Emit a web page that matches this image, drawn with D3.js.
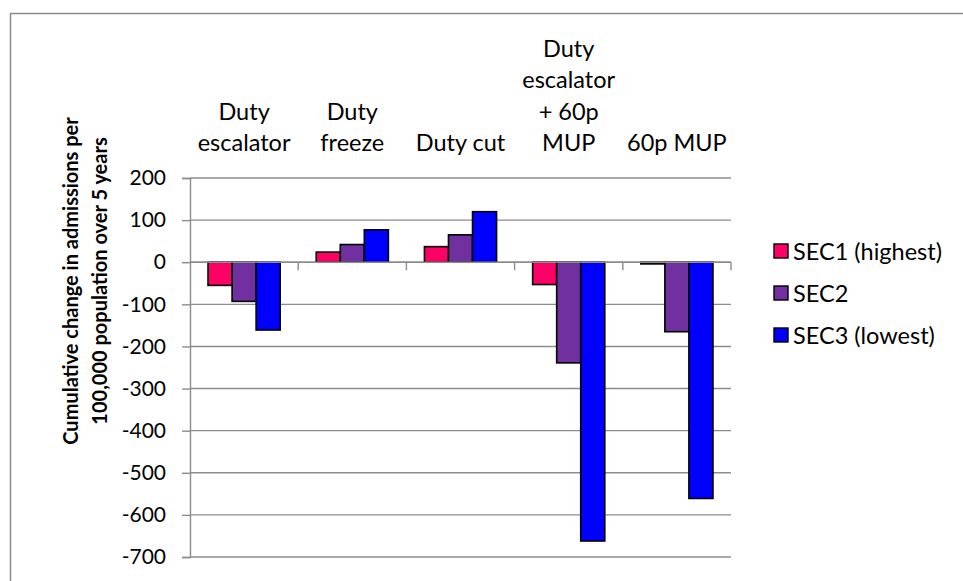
<!DOCTYPE html>
<html>
<head>
<meta charset="utf-8">
<script src="https://cdn.jsdelivr.net/npm/d3@7/dist/d3.min.js"></script>
<style>
  html, body { margin: 0; padding: 0; background: #fff; }
  svg { display: block; }
  text { font-family: Lato, "Open Sans", sans-serif; fill: #000; }
</style>
</head>
<body>
<svg id="chart" width="963" height="581"></svg>
<script>
// Policy scenarios (category labels, split into display lines)
const categories = ["Duty escalator", "Duty freeze", "Duty cut", "Duty escalator + 60p MUP", "60p MUP"];
const categoryLines = [["Duty", "escalator"], ["Duty", "freeze"], ["Duty cut"], ["Duty", "escalator", "+ 60p", "MUP"], ["60p MUP"]];

// Series: socioeconomic classes
const seriesNames = ["SEC1 (highest)", "SEC2", "SEC3 (lowest)"];
const seriesColors = ["#ff0066", "#7030a0", "#0000ff"];

// Cumulative change in admissions per 100,000 over 5 years
const sec1 = [-55, 24, 37, -53, -4];
const sec2 = [-93, 42, 65, -239, -165];
const sec3 = [-161, 77, 120, -662, -561];

// Value axis ticks
const yTicks = [200, 100, 0, -100, -200, -300, -400, -500, -600, -700];

const seriesValues = [sec1, sec2, sec3];
const rows = categories.map((c, i) => ({
  category: c,
  values: seriesNames.map((s, j) => ({ series: s, value: seriesValues[j][i], color: seriesColors[j] }))
}));

const svg = d3.select("#chart");
const plot = { left: 190, right: 731, top: 178, bottom: 557 };

// Outer chart frame
svg.append("rect")
  .attr("x", 10.5).attr("y", 13.5)
  .attr("width", 1000).attr("height", 1000)
  .attr("fill", "none").attr("stroke", "#8c8c8c").attr("stroke-width", 1.5);

const x0 = d3.scaleBand().domain(categories).range([plot.left, plot.right]).padding(0);
const x1 = d3.scaleBand().domain(seriesNames).range([0, x0.bandwidth()]).paddingInner(0).paddingOuter(0.75);
const y = d3.scaleLinear().domain([-700, 200]).range([plot.bottom, plot.top]);

// Horizontal gridlines
svg.append("g").selectAll("line").data(yTicks).join("line")
  .attr("x1", plot.left).attr("x2", plot.right)
  .attr("y1", d => y(d)).attr("y2", d => y(d))
  .attr("stroke", "#8c8c8c").attr("stroke-width", 1.4);

// Value axis
const yAxis = svg.append("g")
  .attr("transform", `translate(${plot.left},0)`)
  .call(d3.axisLeft(y).tickValues(yTicks).tickSize(8).tickPadding(16).tickFormat(d3.format("d")));
yAxis.select(".domain").attr("stroke", "#8c8c8c").attr("stroke-width", 1.4);
yAxis.selectAll(".tick line").attr("stroke", "#8c8c8c").attr("stroke-width", 1.4);
yAxis.selectAll(".tick text")
  .style("font-family", "Lato, sans-serif").style("font-size", "21px").attr("fill", "#000")
  .text(d => d < 0 ? "-" + Math.abs(d) : d);

// Bars
const groups = svg.append("g").selectAll("g").data(rows).join("g")
  .attr("transform", d => `translate(${x0(d.category)},0)`);
groups.selectAll("rect").data(d => d.values).join("rect")
  .attr("x", d => x1(d.series))
  .attr("width", x1.bandwidth())
  .attr("y", d => y(Math.max(0, d.value)))
  .attr("height", d => Math.abs(y(d.value) - y(0)))
  .attr("fill", d => d.color)
  .attr("stroke", "#000").attr("stroke-width", 1.6);

// Category axis along zero, with tick marks between categories
const z = y(0);
svg.append("line")
  .attr("x1", plot.left).attr("x2", plot.right).attr("y1", z).attr("y2", z)
  .attr("stroke", "#8c8c8c").attr("stroke-width", 1.4);
svg.append("g").selectAll("line").data(categories).join("line")
  .attr("x1", d => x0(d) + x0.bandwidth()).attr("x2", d => x0(d) + x0.bandwidth())
  .attr("y1", z).attr("y2", z + 8)
  .attr("stroke", "#8c8c8c").attr("stroke-width", 1.4);

// Category labels above the plot, bottom-aligned
const lineH = 31.5;
const labelBase = 151;
svg.append("g").selectAll("text").data(categories).join("text")
  .attr("text-anchor", "middle")
  .style("font-size", "23.5px")
  .each(function(d, i) {
    const lines = categoryLines[i];
    const cx = x0(d) + x0.bandwidth() / 2;
    d3.select(this).selectAll("tspan").data(lines).join("tspan")
      .attr("x", cx)
      .attr("y", (l, k) => labelBase - (lines.length - 1 - k) * lineH)
      .text(l => l);
  });

// Value axis title
const title = svg.append("text")
  .attr("transform", "translate(0,281) rotate(-90)")
  .attr("text-anchor", "middle")
  .style("font-size", "20px").style("font-weight", "bold");
title.append("tspan").attr("x", 0).attr("y", 78).text("Cumulative change in admissions per");
title.append("tspan").attr("x", 0).attr("y", 107).text("100,000 population over 5 years");

// Legend
const legend = svg.append("g").selectAll("g").data(seriesNames).join("g")
  .attr("transform", (d, i) => `translate(774,${251 + i * 42})`);
legend.append("rect")
  .attr("x", 0).attr("y", -7).attr("width", 14).attr("height", 14)
  .attr("fill", (d, i) => seriesColors[i]).attr("stroke", "#000").attr("stroke-width", 1.4);
legend.append("text")
  .attr("x", 19).attr("y", 8.5)
  .style("font-size", "23.5px")
  .text(d => d);
</script>
</body>
</html>
